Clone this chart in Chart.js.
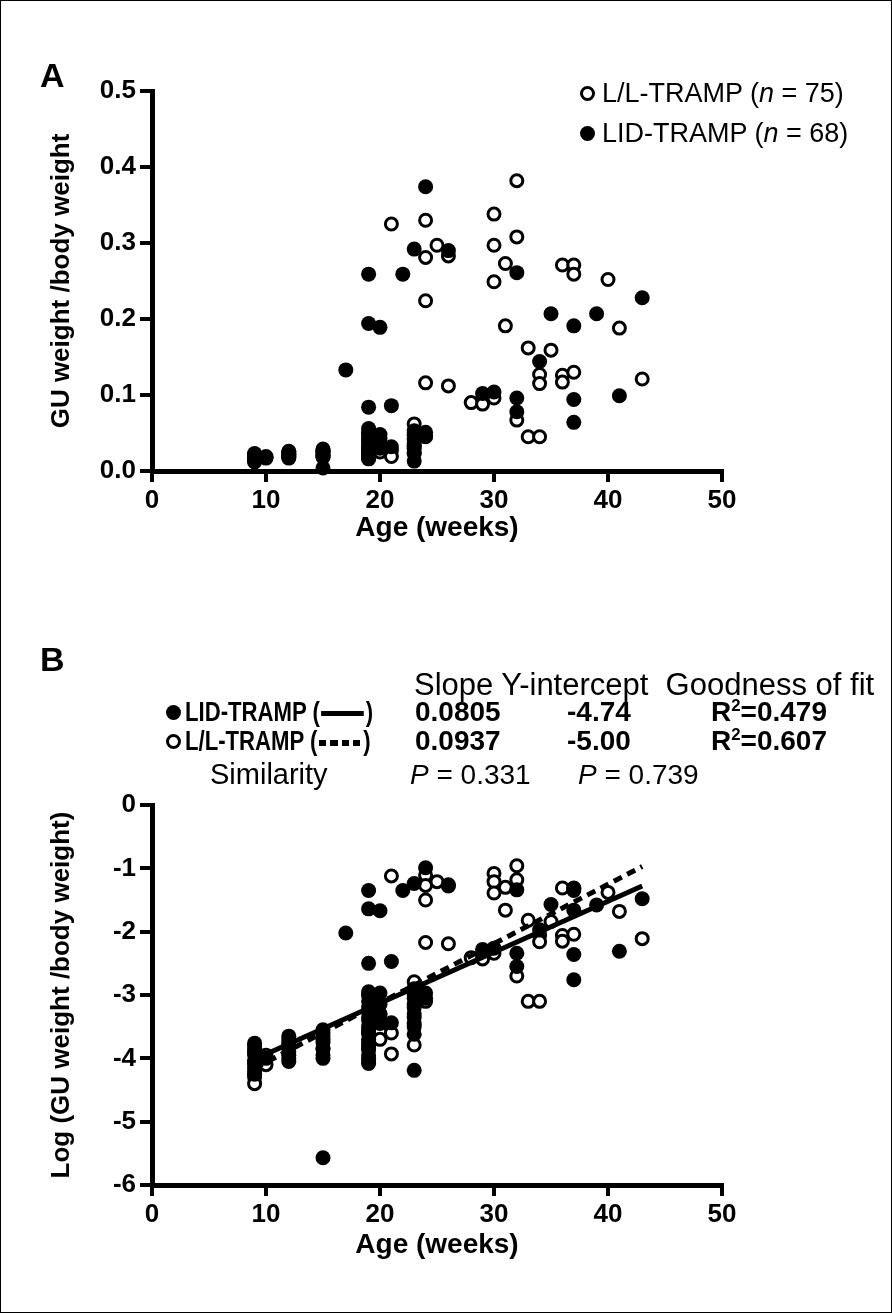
<!DOCTYPE html>
<html>
<head>
<meta charset="utf-8">
<script src="https://cdn.jsdelivr.net/npm/chart.js@4.4.1/dist/chart.umd.min.js"></script>
<style>
html, body { margin: 0; padding: 0; background: #fff; }
#page { position: relative; width: 892px; height: 1313px; outline: 1px solid #000; outline-offset: -1px;
        overflow: hidden; font-family: "Liberation Sans", Arial, sans-serif; color: #000; }
canvas { position: absolute; left: 0; }
.t { position: absolute; white-space: pre; line-height: 1; }
.num { font-weight: bold; font-size: 28px; }
.lab { font-weight: bold; font-size: 27px; transform: scaleX(0.82); transform-origin: 0 50%; }
.reg { font-size: 27px; }
.big { font-weight: bold; font-size: 34px; }
.dot { position: absolute; width: 15px; height: 15px; border-radius: 50%; box-sizing: border-box; margin: -7.5px 0 0 -7.5px; }
.filled { background: #000; }
.open { border: 3px solid #000; background: #fff; }
.solid { display: inline-block; width: 52px; height: 5px; background: #000; vertical-align: middle; margin: 0 2px; }
.dash { display: inline-block; width: 52px; height: 6px; vertical-align: middle; margin: 0 2px;
        background: repeating-linear-gradient(to right, #000 0 9px, transparent 9px 14px); }
sup { font-size: 60%; vertical-align: 0.6em; line-height: 0; }
</style>
</head>
<body>
<div id="page">
  <canvas id="chartA" width="892" height="600" style="top:0"></canvas>
  <canvas id="chartB" width="892" height="713" style="top:600px"></canvas>

  <div class="t big" style="left:40px;top:58px">A</div>
  <div class="dot open" style="left:587px;top:93px"></div>
  <div class="t reg" style="left:602px;top:80px">L/L-TRAMP (<i>n</i> = 75)</div>
  <div class="dot filled" style="left:587px;top:133px"></div>
  <div class="t reg" style="left:602px;top:120px">LID-TRAMP (<i>n</i> = 68)</div>

  <div class="t big" style="left:40px;top:642px">B</div>
  <div class="t reg" style="left:414px;top:669px;font-size:31px">Slope Y-intercept  Goodness of fit</div>

  <div class="dot filled" style="left:173px;top:712px"></div>
  <div class="t lab" style="left:185px;top:699px">LID-TRAMP (<span class="solid"></span>)</div>
  <div class="t num" style="left:415px;top:698px">0.0805</div>
  <div class="t num" style="left:567px;top:698px">-4.74</div>
  <div class="t num" style="left:711px;top:698px">R<sup>2</sup>=0.479</div>

  <div class="dot open" style="left:173px;top:741px"></div>
  <div class="t lab" style="left:185px;top:728px">L/L-TRAMP (<span class="dash"></span>)</div>
  <div class="t num" style="left:415px;top:727px">0.0937</div>
  <div class="t num" style="left:567px;top:727px">-5.00</div>
  <div class="t num" style="left:711px;top:727px">R<sup>2</sup>=0.607</div>

  <div class="t reg" style="left:210px;top:760px;font-size:29px">Similarity</div>
  <div class="t reg" style="left:410px;top:761px;font-size:28px"><i>P</i> = 0.331</div>
  <div class="t reg" style="left:578px;top:761px;font-size:28px"><i>P</i> = 0.739</div>
</div>

<script>
// axis ticks
const xTicks = [0, 10, 20, 30, 40, 50];
const yTicksA = [0, 0.1, 0.2, 0.3, 0.4, 0.5];
const yTicksB = [0, -1, -2, -3, -4, -5, -6];

// panel A: GU weight / body weight
const lidAgeA = [
  9, 9, 9, 9, 9, 9, 9,
  10,
  12, 12, 12, 12, 12,
  15, 15, 15, 15, 15,
  17,
  19, 19, 19, 19, 19, 19, 19, 19, 19, 19, 19, 19, 19, 19, 19,
  20, 20, 20, 20, 20,
  21, 21,
  22,
  23, 23, 23, 23, 23, 23, 23, 23, 23,
  24, 24, 24,
  26, 29, 30,
  32, 32, 32,
  34, 35,
  37, 37, 37,
  39, 41, 43
];
const lidRatio = [
  0.023, 0.021, 0.020, 0.019, 0.017, 0.016, 0.014,
  0.018,
  0.026, 0.024, 0.022, 0.019, 0.017,
  0.029, 0.025, 0.021, 0.018, 0.004,
  0.133,
  0.259, 0.194, 0.084, 0.056, 0.050, 0.045, 0.039, 0.033, 0.029, 0.027, 0.025, 0.022, 0.021, 0.018, 0.016,
  0.189, 0.048, 0.043, 0.037, 0.030,
  0.086, 0.032,
  0.259,
  0.292, 0.053, 0.047, 0.041, 0.037, 0.034, 0.030, 0.024, 0.013,
  0.374, 0.051, 0.046,
  0.290, 0.102, 0.104,
  0.261, 0.096, 0.078,
  0.144, 0.207,
  0.191, 0.094, 0.064,
  0.207, 0.099, 0.228
];
const llAgeA = [
  9, 9, 9, 9, 9, 9, 9, 9,
  10, 10,
  12, 12, 12, 12,
  15, 15, 15, 15, 15,
  19, 19, 19, 19, 19, 19, 19, 19, 19,
  20, 20, 20, 20,
  21, 21, 21,
  23, 23, 23, 23, 23,
  24, 24, 24, 24, 24,
  25, 26, 26, 28, 29, 29,
  30, 30, 30, 30,
  31, 31,
  32, 32, 32,
  33, 33,
  34, 34, 34,
  35,
  36, 36, 36,
  37, 37, 37,
  40, 41, 43
];
const llRatio = [
  0.022, 0.020, 0.017, 0.017, 0.015, 0.014, 0.014, 0.012,
  0.019, 0.017,
  0.025, 0.022, 0.020, 0.018,
  0.027, 0.026, 0.024, 0.021, 0.019,
  0.050, 0.041, 0.035, 0.030, 0.027, 0.024, 0.021, 0.019, 0.017,
  0.037, 0.032, 0.028, 0.025,
  0.325, 0.027, 0.019,
  0.062, 0.050, 0.043, 0.032, 0.023,
  0.330, 0.281, 0.224, 0.116, 0.045,
  0.297, 0.283, 0.112, 0.090, 0.095, 0.088,
  0.338, 0.297, 0.249, 0.096,
  0.273, 0.191,
  0.382, 0.308, 0.067,
  0.162, 0.045,
  0.127, 0.115, 0.045,
  0.159,
  0.271, 0.126, 0.117,
  0.271, 0.259, 0.130,
  0.252, 0.188, 0.121
];

// panel B: Log (GU weight / body weight)
const lidAgeB = [
  9, 9, 9, 9, 9, 9, 9,
  10,
  12, 12, 12, 12, 12,
  15, 15, 15, 15, 15,
  17,
  19, 19, 19, 19, 19, 19, 19, 19, 19, 19, 19, 19, 19, 19, 19,
  20, 20, 20, 20, 20,
  21, 21,
  22,
  23, 23, 23, 23, 23, 23, 23, 23, 23,
  24, 24, 24,
  26, 29, 30,
  32, 32, 32,
  34, 35,
  37, 37, 37, 37,
  39, 41, 43
];
const lidLog = [
  -3.76, -3.85, -3.90, -3.95, -4.05, -4.15, -4.25,
  -4.00,
  -3.65, -3.75, -3.80, -3.95, -4.05,
  -3.55, -3.70, -3.85, -4.00, -5.57,
  -2.02,
  -1.35, -1.64, -2.50, -2.95, -3.00, -3.10, -3.25, -3.40, -3.55, -3.60, -3.70, -3.80, -3.85, -4.00, -4.08,
  -1.67, -2.97, -3.15, -3.30, -3.45,
  -2.47, -3.44,
  -1.35,
  -1.24, -2.90, -3.05, -3.20, -3.30, -3.35, -3.50, -3.62, -4.19,
  -0.99, -2.97, -3.05,
  -1.28, -2.28, -2.26,
  -1.34, -2.34, -2.55,
  -1.97, -1.57,
  -1.32, -1.66, -2.36, -2.76,
  -1.58, -2.31, -1.48
];
const llAgeB = llAgeA;
const llLog = [
  -3.80, -3.90, -4.05, -4.10, -4.20, -4.25, -4.30, -4.40,
  -3.95, -4.10,
  -3.70, -3.80, -3.90, -4.00,
  -3.60, -3.65, -3.75, -3.85, -3.95,
  -3.00, -3.20, -3.35, -3.50, -3.60, -3.75, -3.85, -3.95, -4.05,
  -3.30, -3.45, -3.58, -3.70,
  -1.12, -3.60, -3.93,
  -2.79, -3.00, -3.15, -3.45, -3.79,
  -1.11, -1.27, -1.50, -2.17, -3.10,
  -1.21, -1.26, -2.19, -2.41, -2.35, -2.43,
  -1.08, -1.21, -1.39, -2.34,
  -1.30, -1.66,
  -0.96, -1.18, -2.70,
  -1.82, -3.10,
  -2.06, -2.16, -3.10,
  -1.84,
  -1.31, -2.06, -2.15,
  -1.31, -1.35, -2.04,
  -1.38, -1.68, -2.11
];

// linear fits printed in panel B: LID-TRAMP, L/L-TRAMP
const fitSlope = [0.0805, 0.0937];
const fitIntercept = [-4.74, -5.00];
const fitAge = [9, 43];

const sans = '"Liberation Sans", Arial, sans-serif';
const tickFont = { family: sans, weight: 'bold', size: 26 };
const xTitleFont = { family: sans, weight: 'bold', size: 28 };
const yTitleFont = { family: sans, weight: 'bold', size: 26 };

function pts(xs, ys) { return xs.map((x, i) => ({ x: x, y: ys[i] })); }
function fitLine(k) { return fitAge.map(x => ({ x: x, y: fitSlope[k] * x + fitIntercept[k] })); }

const filledStyle = { pointRadius: 7.5, pointBorderWidth: 0, pointBackgroundColor: '#000', pointBorderColor: '#000' };
const openStyle = { pointRadius: 6, pointBorderWidth: 3, pointBackgroundColor: '#fff', pointBorderColor: '#000' };

function xScale(titlePad) {
  return {
    type: 'linear', min: 0, max: 50,
    afterBuildTicks: s => { s.ticks = xTicks.map(v => ({ value: v })); },
    afterFit: s => { s.height = 80; },
    ticks: { font: tickFont, color: '#000', padding: 3, maxRotation: 0 },
    grid: { drawOnChartArea: false, drawTicks: true, tickLength: 11, lineWidth: 4, color: '#000' },
    border: { display: true, width: 5, color: '#000' },
    title: { display: true, text: 'Age (weeks)', font: xTitleFont, color: '#000', padding: { top: 0, bottom: titlePad } }
  };
}
function yScale(min, max, ticks, fmt, title) {
  return {
    type: 'linear', min: min, max: max,
    afterBuildTicks: s => { s.ticks = ticks.map(v => ({ value: v })); },
    afterFit: s => { s.width = 152; },
    ticks: { font: tickFont, color: '#000', padding: 4, callback: fmt },
    grid: { drawOnChartArea: false, drawTicks: true, tickLength: 12, lineWidth: 4, color: '#000' },
    border: { display: true, width: 5, color: '#000' },
    title: { display: true, text: title, font: yTitleFont, color: '#000', padding: { top: 46, bottom: 0 } }
  };
}
const common = {
  responsive: false, animation: false, events: [],
  plugins: { legend: { display: false }, tooltip: { enabled: false } }
};

new Chart(document.getElementById('chartA'), {
  type: 'scatter',
  data: {
    datasets: [
      Object.assign({ label: 'LID-TRAMP', data: pts(lidAgeA, lidRatio), clip: false }, filledStyle),
      Object.assign({ label: 'L/L-TRAMP', data: pts(llAgeA, llRatio), clip: false }, openStyle)
    ]
  },
  options: Object.assign({}, common, {
    layout: { padding: { left: 0, top: 91, right: 170, bottom: 49 } },
    scales: {
      x: xScale(6),
      y: yScale(0, 0.5, yTicksA, v => v.toFixed(1), 'GU weight /body weight')
    }
  })
});

new Chart(document.getElementById('chartB'), {
  type: 'scatter',
  data: {
    datasets: [
      { label: 'LID fit', data: fitLine(0), showLine: true, borderColor: '#000', borderWidth: 5, pointRadius: 0, clip: false },
      { label: 'L/L fit', data: fitLine(1), showLine: true, borderColor: '#000', borderWidth: 5, borderDash: [9, 6], pointRadius: 0, clip: false },
      Object.assign({ label: 'LID-TRAMP', data: pts(lidAgeB, lidLog), clip: false }, filledStyle),
      Object.assign({ label: 'L/L-TRAMP', data: pts(llAgeB, llLog), clip: false }, openStyle)
    ]
  },
  options: Object.assign({}, common, {
    layout: { padding: { left: 0, top: 205, right: 170, bottom: 48 } },
    scales: {
      x: xScale(3),
      y: yScale(-6, 0, yTicksB, v => String(v), 'Log (GU weight /body weight)')
    }
  })
});
</script>
</body>
</html>
